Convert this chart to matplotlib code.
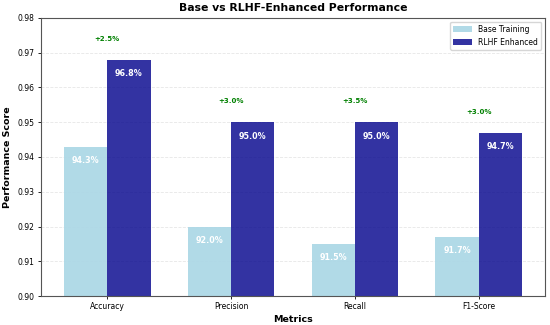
import matplotlib.pyplot as plt
import numpy as np

# data
metrics = ['Accuracy', 'Precision', 'Recall', 'F1-Score']
base_scores = [0.943, 0.920, 0.915, 0.917]
rlhf_scores = [0.968, 0.950, 0.950, 0.947]

fig = plt.figure(figsize=(5.5, 3.25), dpi=100)
ax = fig.add_axes([0.0745, 0.089, 0.9165, 0.856])

x = np.arange(len(metrics))
width = 0.35

ax.bar(x - width / 2, base_scores, width, label='Base Training', color='lightblue', alpha=0.95)
ax.bar(x + width / 2, rlhf_scores, width, label='RLHF Enhanced', color='darkblue', alpha=0.8)

# value labels inside bars
for i in range(len(metrics)):
    ax.text(x[i] - width / 2, base_scores[i] - 0.004, f'{base_scores[i] * 100:.1f}%',
            ha='center', va='center', color='white', fontsize=5.8, fontweight='bold')
    ax.text(x[i] + width / 2, rlhf_scores[i] - 0.004, f'{rlhf_scores[i] * 100:.1f}%',
            ha='center', va='center', color='white', fontsize=5.8, fontweight='bold')
    gain = (rlhf_scores[i] - base_scores[i]) * 100
    ax.text(x[i], rlhf_scores[i] + 0.006, f'+{gain:.1f}%',
            ha='center', va='center', color='green', fontsize=5, fontweight='bold')

ax.set_ylim(0.90, 0.98)
ax.set_yticks(np.arange(0.90, 0.981, 0.01))
ax.yaxis.set_major_formatter(plt.FormatStrFormatter('%.2f'))
ax.set_xticks(x)
ax.set_xticklabels(metrics)
ax.tick_params(labelsize=5.5, length=2.5, width=0.6, pad=2)

ax.set_xlabel('Metrics', fontsize=6.8, fontweight='bold', labelpad=3)
ax.set_ylabel('Performance Score', fontsize=6.8, fontweight='bold', labelpad=4)
ax.set_title('Base vs RLHF-Enhanced Performance', fontsize=7.8, fontweight='bold', pad=5)

ax.legend(loc='upper right', fontsize=5.5, handlelength=2.5)
ax.grid(True, axis='y', alpha=0.3, linestyle='--', linewidth=0.6)
ax.set_axisbelow(True)
for s in ax.spines.values():
    s.set_color('#555555')
    s.set_linewidth(0.8)

plt.savefig('out.png', dpi=100, facecolor='white')
